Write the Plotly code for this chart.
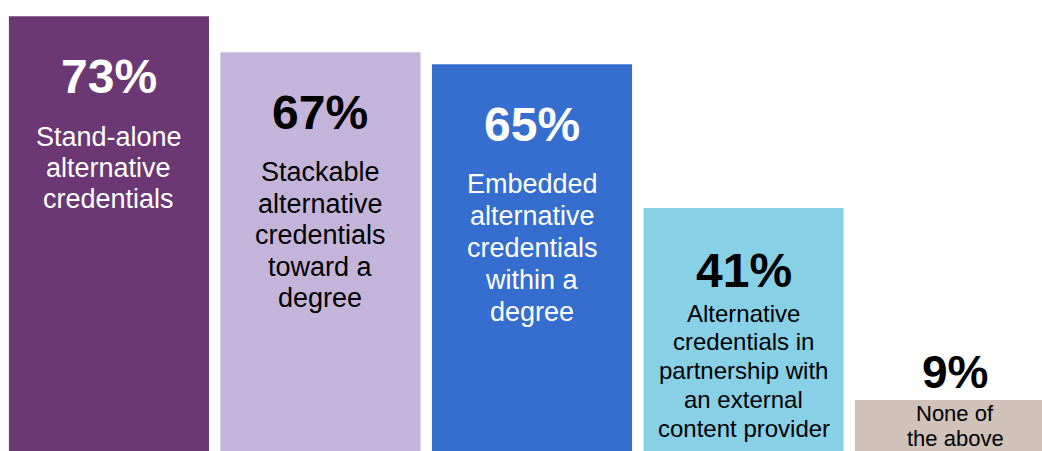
import plotly.graph_objects as go

# Survey results: share of institutions offering each type of alternative credential
categories = [
    "Stand-alone alternative credentials",
    "Stackable alternative credentials toward a degree",
    "Embedded alternative credentials within a degree",
    "Alternative credentials in partnership with an external content provider",
    "None of the above",
]
values = [73, 67, 65, 41, 9]
value_labels = ["73%", "67%", "65%", "41%", "9%"]
desc_lines = [
    ["Stand-alone", "alternative", "credentials"],
    ["Stackable", "alternative", "credentials", "toward a", "degree"],
    ["Embedded", "alternative", "credentials", "within a", "degree"],
    ["Alternative", "credentials in", "partnership with", "an external", "content provider"],
    ["None of", "the above"],
]

bar_colors = ["#6B3874", "#C5B4D9", "#366ED0", "#87D0E6", "#D1C2B9"]
text_colors = ["#FFFFFF", "#000000", "#FFFFFF", "#000000", "#000000"]

# per-bar text layout: (value font, value offset below top, desc font, desc offset, line gap)
text_layout = [
    (48, 60, 27, 121, 31),
    (48, 60, 27, 120, 31.5),
    (48, 60, 27, 120, 32),
    (48, 62, 24, 105, 28.8),
    (46, -28, 22, 13.5, 25),
]

FONT = "Liberation Sans, Arial, sans-serif"

fig = go.Figure(
    go.Bar(
        x=categories,
        y=values,
        width=0.946,
        marker=dict(color=bar_colors, line=dict(width=0)),
        hoverinfo="skip",
    )
)

annotations = []
for i, cat in enumerate(categories):
    vf, voff, df, doff, gap = text_layout[i]
    # value label sits inside the bar, except for short bars where it goes above
    vcolor = text_colors[i] if voff > 0 else "#000000"
    annotations.append(dict(
        x=cat, y=values[i], xref="x", yref="y",
        text="<b>%s</b>" % value_labels[i], showarrow=False,
        yanchor="middle", xanchor="center", yshift=-voff,
        font=dict(family=FONT, size=vf, color=vcolor),
    ))
    for j, line in enumerate(desc_lines[i]):
        annotations.append(dict(
            x=cat, y=values[i], xref="x", yref="y",
            text=line, showarrow=False,
            yanchor="middle", xanchor="center", yshift=-(doff + j * gap),
            font=dict(family=FONT, size=df, color=text_colors[i]),
        ))

fig.update_layout(
    width=1042, height=451,
    margin=dict(l=0, r=0, t=0, b=0),
    paper_bgcolor="white", plot_bgcolor="white",
    showlegend=False,
    xaxis=dict(type="category", range=[-0.515, 4.411], visible=False, fixedrange=True),
    yaxis=dict(range=[0.5, 75.7], visible=False, fixedrange=True),
    annotations=annotations,
)

fig.write_html("out.html", config={"displayModeBar": False})
